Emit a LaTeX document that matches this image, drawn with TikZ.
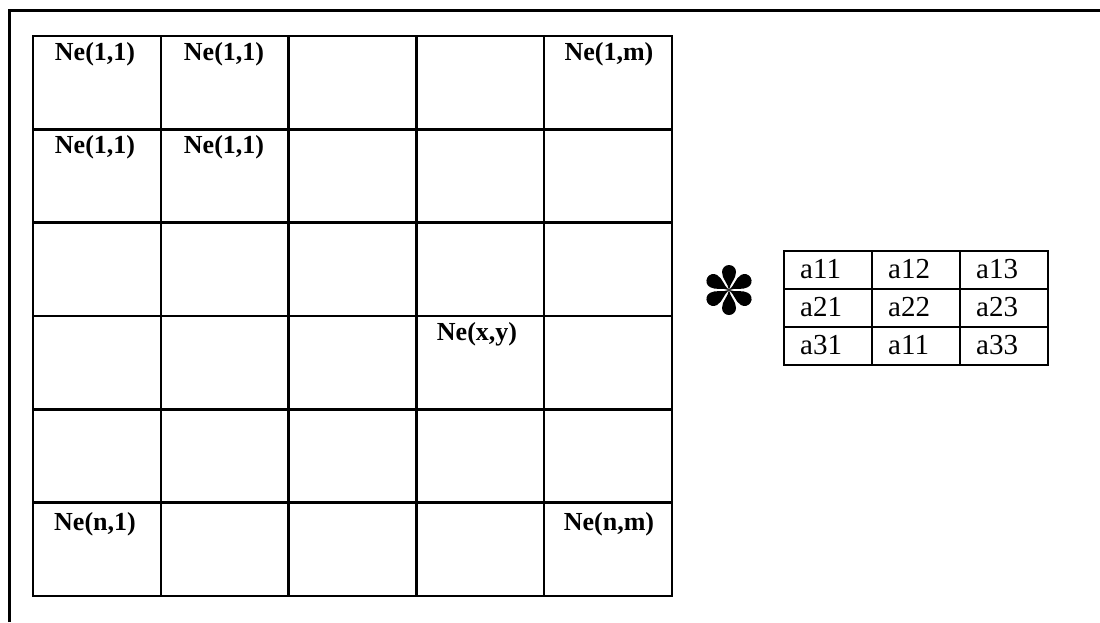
\documentclass[tikz,border=0pt]{standalone}
\usepackage{fontspec}
\setmainfont{Liberation Serif}
\begin{document}
\begin{tikzpicture}[x=1pt,y=-1pt,
  frameline/.style={line width=3pt},
  gridline/.style={line width=2.4pt, line cap=rect},
  celllabel/.style={font=\fontsize{26}{26}\selectfont\bfseries, anchor=base, inner sep=0pt},
  kernlabel/.style={font=\fontsize{29}{29}\selectfont, anchor=base west, inner sep=0pt},
  petal/.style={fill=black}]
\useasboundingbox (0,0) rectangle (1100,622);

% outer frame (left and top edges)
\draw[frameline] (9,622) -- (9,10.5) -- (1100,10.5);

% n x m grid of neurons: 6 rows, 5 columns
\foreach \i in {0,...,6}
  \draw[gridline] (33,{36+\i*93.33}) -- (672,{36+\i*93.33});
\foreach \j in {0,...,5}
  \draw[gridline] ({33+\j*127.8},36) -- ({33+\j*127.8},596);

% neuron labels
\node[celllabel] (n11a) at (95,60)  {Ne(1,1)};
\node[celllabel] (n11b) at (224,60) {Ne(1,1)};
\node[celllabel] (n1m)  at (609,60) {Ne(1,m)};
\node[celllabel] (n11c) at (95,153) {Ne(1,1)};
\node[celllabel] (n11d) at (224,153) {Ne(1,1)};
\node[celllabel] (nxy)  at (477,340) {Ne(x,y)};
\node[celllabel] (nn1)  at (95,530) {Ne(n,1)};
\node[celllabel] (nnm)  at (609,530) {Ne(n,m)};

% convolution operator
\begin{scope}[shift={(729,290)}]
  \foreach \a in {90,30,-30,-90,150,210}
    \fill[petal, rotate=\a] (0,0) .. controls (7,-1) and (11,-7) .. (18,-7)
      arc[start angle=-90, end angle=90, radius=7]
      .. controls (11,7) and (7,1) .. (0,0) -- cycle;
\end{scope}

% 3x3 kernel
\foreach \i in {0,...,3}
  \draw[gridline] (784,{251+\i*38}) -- (1048,{251+\i*38});
\foreach \j in {0,...,3}
  \draw[gridline] ({784+\j*88},251) -- ({784+\j*88},365);

\node[kernlabel] (k11) at (800,278) {a11};
\node[kernlabel] (k12) at (888,278) {a12};
\node[kernlabel] (k13) at (976,278) {a13};
\node[kernlabel] (k21) at (800,316) {a21};
\node[kernlabel] (k22) at (888,316) {a22};
\node[kernlabel] (k23) at (976,316) {a23};
\node[kernlabel] (k31) at (800,354) {a31};
\node[kernlabel] (k32) at (888,354) {a11};
\node[kernlabel] (k33) at (976,354) {a33};
\end{tikzpicture}
\end{document}
